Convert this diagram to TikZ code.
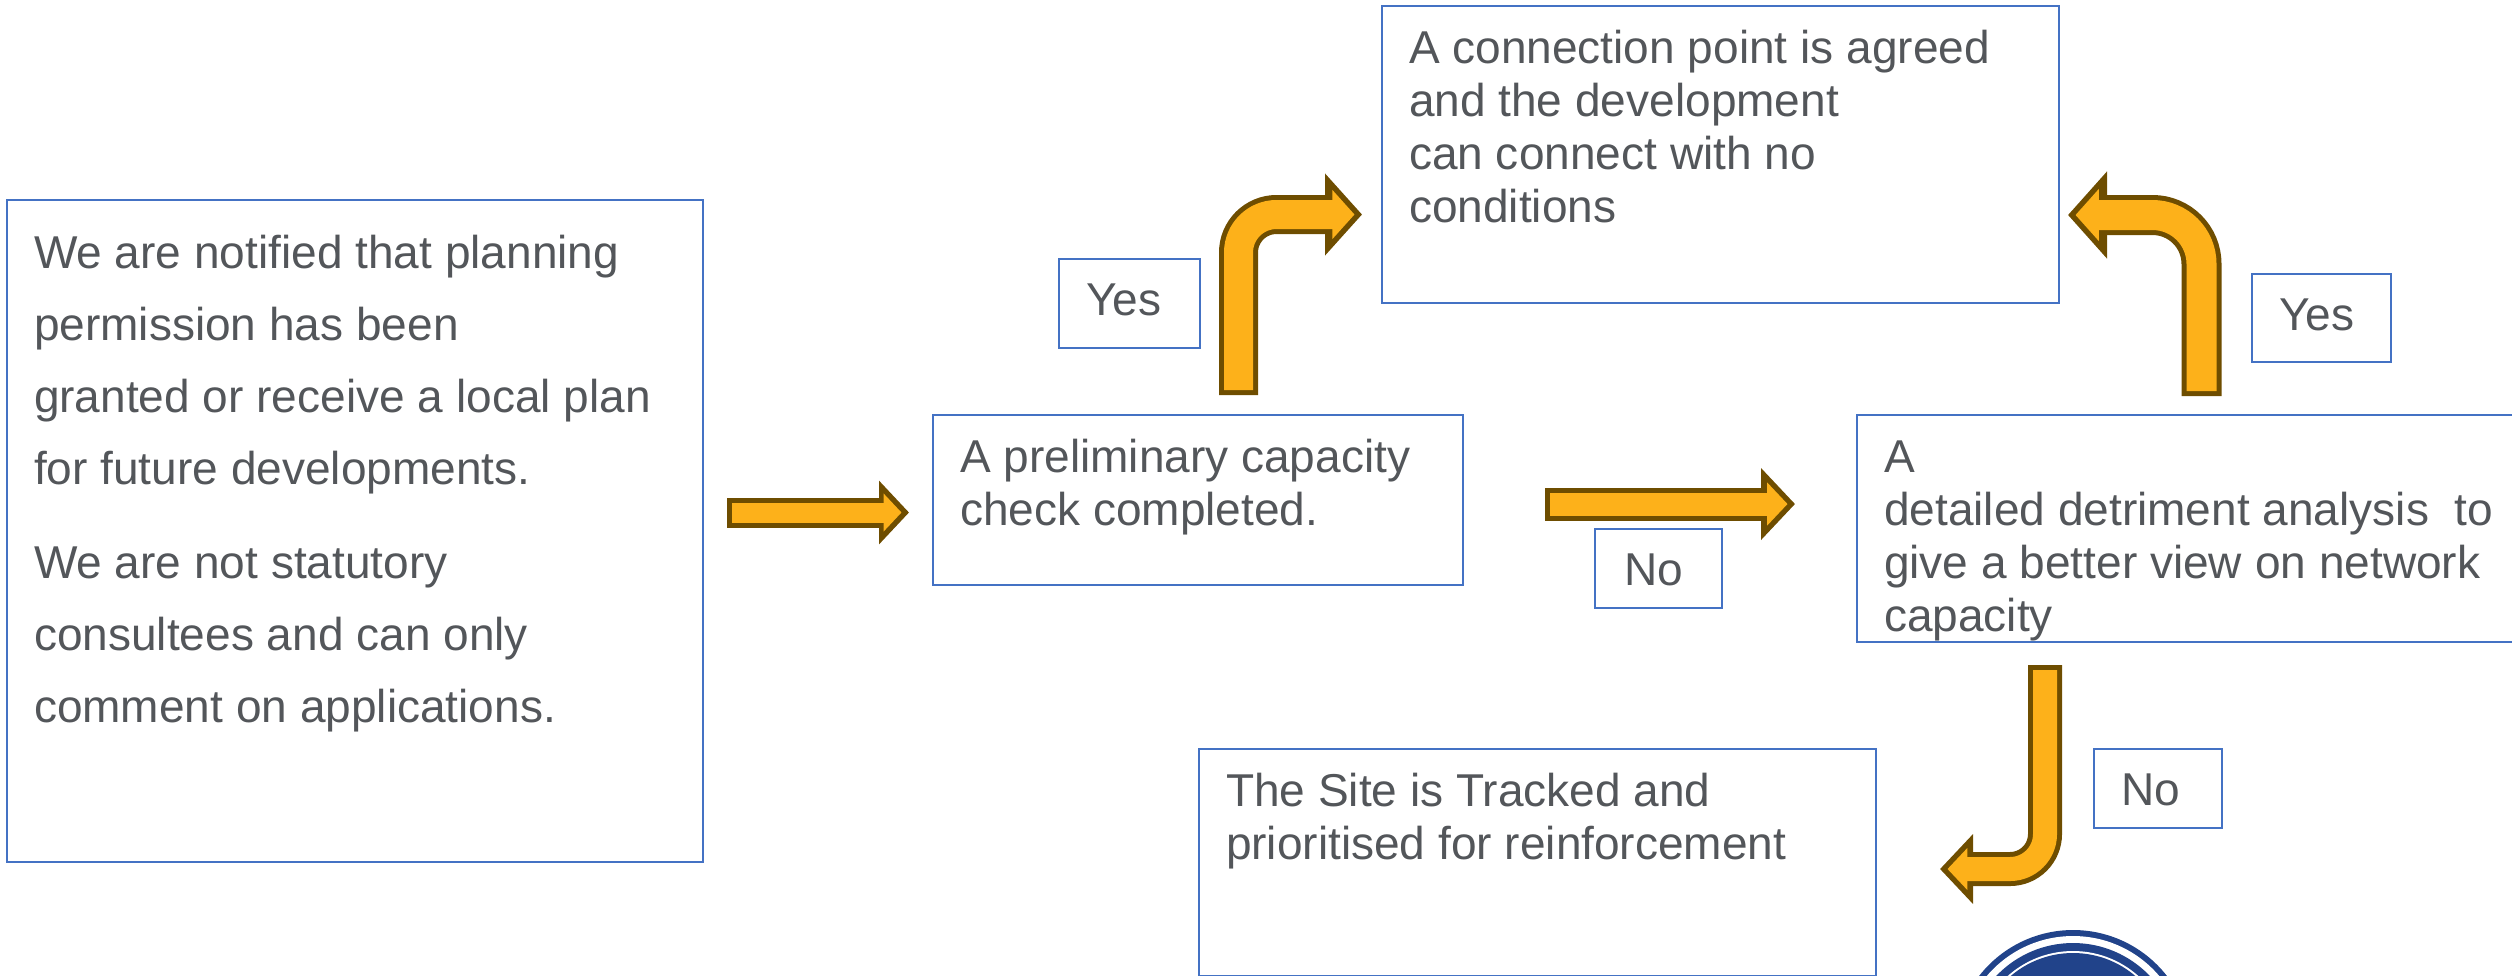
\documentclass[tikz,border=0pt]{standalone}
\usepackage{fontspec}
\setmainfont{Liberation Sans}
\usetikzlibrary{arrows.meta}
\definecolor{panelblue}{HTML}{4472C4}
\definecolor{bodygrey}{HTML}{53565A}
\definecolor{arroworange}{HTML}{FDB11A}
\definecolor{arrowbrown}{HTML}{6E4D00}
\definecolor{logoblue}{HTML}{21438A}
% width, height, line pitch, first baseline, text
\newcommand{\panelbody}[5]{\parbox[c][#2][t]{#1}{\fontsize{13.1pt}{#3}\selectfont\raggedright\leftskip=0.27cm\parskip=0pt\rule{0pt}{#4}#5}}
\tikzset{
    panel/.style={draw=panelblue,line width=0.02cm,anchor=north west,inner sep=0pt,text=bodygrey},
    blockarrow/.style n args={4}{line width=#1,draw=arrowbrown,-{Triangle[length=#3,width=#4]},
        postaction={draw=arroworange,line width=#2,shorten >=0.075cm,shorten <=0.05cm,-{Triangle[length=#3,width=#4,scale=0.6]}}}
}
\begin{document}
\begin{tikzpicture}
    \path[use as bounding box,clip] (0,0) rectangle (25.12,-9.75);
    % logo
    \coordinate (logo) at (20.73,-10.49);
    \fill[logoblue] (logo) circle (1.19);
    \fill[white] (logo) circle (1.13);
    \fill[logoblue] (logo) circle (1.06);
    \fill[white] (logo) circle (0.98);
    \fill[logoblue] (logo) circle (0.96);
    % panels
    \node[panel] (notify) at (0.06,-1.985) {\panelbody{6.96cm}{6.62cm}{0.72cm}{0.685cm}{We are notified that planning\par permission has been\par granted or receive a local plan\par for future developments.\par\vspace{0.22cm}We are not statutory\par consultees and can only\par comment on applications.}};
    \node[panel] (prelim) at (9.32,-4.135) {\panelbody{5.30cm}{1.70cm}{0.53cm}{0.575cm}{A preliminary capacity\par check completed.}};
    \node[panel] (connect) at (13.81,-0.045) {\panelbody{6.77cm}{2.97cm}{0.53cm}{0.58cm}{A connection point is agreed\par and the development\par can connect with no\par conditions}};
    \node[panel] (detail) at (18.56,-4.135) {\panelbody{7.00cm}{2.27cm}{0.53cm}{0.575cm}{A\par detailed detriment analysis\ \ to\par give a better view on network\par capacity}};
    \node[panel] (tracked) at (11.98,-7.475) {\panelbody{6.77cm}{2.27cm}{0.53cm}{0.575cm}{The Site is Tracked and\par prioritised for reinforcement}};
    \node[panel] (yesup) at (10.58,-2.575) {\panelbody{1.41cm}{0.89cm}{0.53cm}{0.565cm}{Yes}};
    \node[panel] (yesback) at (22.51,-2.725) {\panelbody{1.39cm}{0.88cm}{0.53cm}{0.565cm}{Yes}};
    \node[panel] (nomid) at (15.94,-5.275) {\panelbody{1.27cm}{0.79cm}{0.53cm}{0.565cm}{\hspace{0.02cm}No}};
    \node[panel] (nodown) at (20.93,-7.475) {\panelbody{1.28cm}{0.79cm}{0.53cm}{0.565cm}{No}};
    % arrows
    \coordinate (feedtail) at (7.27,-5.125);
    \coordinate (feedtip) at (9.09,-5.125);
    \coordinate (midtail) at (15.45,-5.04);
    \coordinate (midtip) at (17.95,-5.04);
    \coordinate (uptail) at (12.385,-3.95);
    \coordinate (uptip) at (13.62,-2.145);
    \coordinate (backtail) at (22.015,-3.96);
    \coordinate (backtip) at (20.68,-2.15);
    \coordinate (downtail) at (20.45,-6.65);
    \coordinate (downtip) at (19.40,-8.69);
    \draw[blockarrow={0.30cm}{0.20cm}{0.30cm}{0.62cm}] (feedtail) -- (feedtip);
    \draw[blockarrow={0.33cm}{0.23cm}{0.34cm}{0.70cm}] (midtail) -- (midtip);
    \draw[blockarrow={0.39cm}{0.29cm}{0.37cm}{0.80cm},rounded corners=0.38cm] (uptail) |- (uptip);
    \draw[blockarrow={0.40cm}{0.30cm}{0.39cm}{0.85cm},rounded corners=0.49cm] (backtail) |- (backtip);
    \draw[blockarrow={0.34cm}{0.24cm}{0.33cm}{0.68cm},rounded corners=0.35cm] (downtail) |- (downtip);
\end{tikzpicture}
\end{document}
